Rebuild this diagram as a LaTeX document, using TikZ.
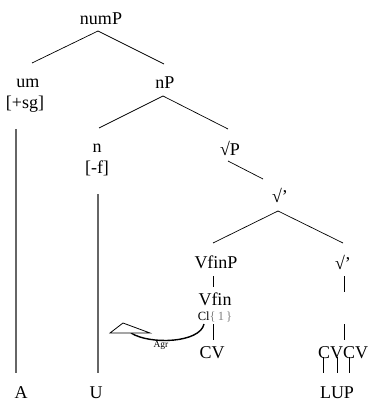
\documentclass[tikz,border=0pt]{standalone}
\usepackage{fontspec}
\setmainfont{Liberation Serif}
\begin{document}
\begin{tikzpicture}[x=1pt,y=-1pt,
  lbl/.style={inner sep=0pt,font=\fontsize{18}{20}\selectfont},
  small/.style={inner sep=0pt,font=\fontsize{12.5}{13}\selectfont},
  tiny/.style={inner sep=0pt,font=\fontsize{9.5}{10}\selectfont},
  br/.style={line width=0.7pt,black},
  assoc/.style={line width=1.5pt,gray!80!black}]
\useasboundingbox (0,0) rectangle (368,403);
% labels
\node[lbl] (numP) at (101,19) {numP};
\node[lbl] (um) at (28,83) {um};
\node[lbl] (sg) at (25,104) {[+sg]};
\node[lbl] (nP) at (165,83) {nP};
\node[lbl] (n) at (97,148) {n};
\node[lbl] (f) at (97,168) {[-f]};
\node[lbl] (sqP) at (230,148) {√P};
\node[lbl] (sqa) at (280,195) {√’};
\node[lbl] (VfinP) at (216,262) {VfinP};
\node[lbl] (sqb) at (343,262) {√’};
\node[lbl] (Vfin) at (215,299) {Vfin};
\node[small] (Cl) at (215,317) {Cl\textcolor{gray}{\{\,1\,\}}};
\node[lbl] (CV) at (212,353) {CV};
\node[lbl] (CVCV) at (343,353) {CVCV};
\node[lbl] (A) at (21,393) {A};
\node[lbl] (U) at (96,393) {U};
\node[lbl] (LUP) at (337,393) {LUP};
\node[tiny] (Agr) at (161,345) {Agr};
% branch points
\coordinate (numPb) at (98,31); \coordinate (umt) at (32,63); \coordinate (nPt) at (164,64);
\coordinate (nPb) at (163,96); \coordinate (nt) at (99,128); \coordinate (sqPt) at (228,129);
\coordinate (sqPb) at (228,161); \coordinate (sqat) at (263,179);
\coordinate (sqab) at (278,211); \coordinate (VfinPt) at (213,243); \coordinate (sqbt) at (343,243);
\draw[br] (umt) -- (numPb) -- (nPt);
\draw[br] (nt) -- (nPb) -- (sqPt);
\draw[br] (sqPb) -- (sqat);
\draw[br] (VfinPt) -- (sqab) -- (sqbt);
\coordinate (v1) at (213,276); \coordinate (v2) at (213,287);
\coordinate (v3) at (213,324); \coordinate (v4) at (213,340);
\coordinate (w1) at (344,276); \coordinate (w2) at (344,292);
\coordinate (w3) at (344,324); \coordinate (w4) at (344,340);
\draw[br] (v1) -- (v2);
\draw[br] (v3) -- (v4);
\draw[br] (w1) -- (w2);
\draw[br] (w3) -- (w4);
\foreach \x [count=\i] in {323,337,349} {
  \coordinate (c\i t) at (\x,357); \coordinate (c\i b) at (\x,373);
  \draw[br] (c\i t) -- (c\i b);
}
% association lines
\coordinate (at) at (16,129); \coordinate (ab) at (16,373);
\coordinate (ut) at (98,194); \coordinate (ub) at (98,373);
\draw[assoc] (at) -- (ab);
\draw[assoc] (ut) -- (ub);
% Agr arrow
\coordinate (agrs) at (204,324); \coordinate (agre) at (131,333);
\draw[line width=1.4pt] (agrs) .. controls (200,343) and (150,345) .. (agre);
\coordinate (t1) at (110,333); \coordinate (t2) at (123,323); \coordinate (t3) at (150,333);
\draw[line width=0.8pt,line join=miter,fill=white] (t1) -- (t2) -- (t3) -- cycle;
\end{tikzpicture}
\end{document}
